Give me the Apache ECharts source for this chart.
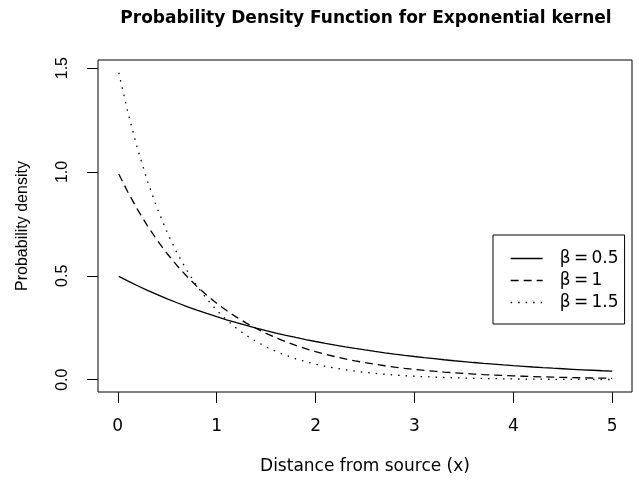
<!DOCTYPE html>
<html>
<head>
<meta charset="utf-8">
<script src="https://cdn.jsdelivr.net/npm/echarts@6/dist/echarts.min.js"></script>
<style>
html,body{margin:0;padding:0;background:#fff;}
#chart{width:639px;height:485px;}
</style>
</head>
<body>
<div id="chart"></div>
<script>
// Distance from source (x)
var xs = [0.01,0.1,0.2,0.3,0.4,0.5,0.6,0.7,0.8,0.9,1.0,1.1,1.2,1.3,1.4,1.5,1.6,1.7,1.8,1.9,2.0,
  2.1,2.2,2.3,2.4,2.5,2.6,2.7,2.8,2.9,3.0,3.1,3.2,3.3,3.4,3.5,3.6,3.7,3.8,3.9,4.0,
  4.1,4.2,4.3,4.4,4.5,4.6,4.7,4.8,4.9,5.0];
// beta = 0.5
var beta05 = [0.4975,0.4756,0.4524,0.4304,0.4094,0.3894,0.3704,0.3523,0.3352,0.3188,0.3033,
  0.2885,0.2744,0.2610,0.2483,0.2362,0.2247,0.2137,0.2033,0.1934,0.1839,
  0.1750,0.1664,0.1583,0.1506,0.1433,0.1363,0.1296,0.1233,0.1173,0.1116,
  0.1061,0.1010,0.0960,0.0913,0.0869,0.0827,0.0786,0.0748,0.0711,0.0677,
  0.0644,0.0612,0.0582,0.0554,0.0527,0.0501,0.0477,0.0454,0.0431,0.0410];
// beta = 1
var beta1 = [0.9900,0.9048,0.8187,0.7408,0.6703,0.6065,0.5488,0.4966,0.4493,0.4066,0.3679,
  0.3329,0.3012,0.2725,0.2466,0.2231,0.2019,0.1827,0.1653,0.1496,0.1353,
  0.1225,0.1108,0.1003,0.0907,0.0821,0.0743,0.0672,0.0608,0.0550,0.0498,
  0.0450,0.0408,0.0369,0.0334,0.0302,0.0273,0.0247,0.0224,0.0202,0.0183,
  0.0166,0.0150,0.0136,0.0123,0.0111,0.0101,0.0091,0.0082,0.0074,0.0067];
// beta = 1.5
var beta15 = [1.4777,1.2911,1.1112,0.9564,0.8232,0.7086,0.6099,0.5249,0.4518,0.3889,0.3347,
  0.2881,0.2479,0.2134,0.1837,0.1581,0.1361,0.1171,0.1008,0.0868,0.0747,
  0.0643,0.0553,0.0476,0.0410,0.0353,0.0304,0.0261,0.0225,0.0194,0.0167,
  0.0143,0.0123,0.0106,0.0091,0.0079,0.0068,0.0058,0.0050,0.0043,0.0037,
  0.0032,0.0028,0.0024,0.0020,0.0018,0.0015,0.0013,0.0011,0.0010,0.0008];
var seriesNames = ['\u03B2\u2009=\u20090.5', '\u03B2\u2009=\u20091', '\u03B2\u2009=\u20091.5'];
var xTicks = [0, 1, 2, 3, 4, 5];
var yTicks = [0, 0.5, 1, 1.5];

function pairs(ys) { return xs.map(function (x, i) { return [x, ys[i]]; }); }

var chart = echarts.init(document.getElementById('chart'), null, {renderer: 'canvas'});
var hFont = 'DejaVu Sans';
var vFont = 'Liberation Sans';
chart.setOption({
  animation: false,
  backgroundColor: '#ffffff',
  title: {
    text: 'Probability Density Function for Exponential kernel',
    left: 361, top: 5, textAlign: 'center',
    textStyle: {fontFamily: hFont, fontWeight: 'bold', fontSize: 17, color: '#000'}
  },
  grid: {left: 98, right: 7, top: 60, bottom: 93, show: true, borderColor: '#000', borderWidth: 1, backgroundColor: 'transparent'},
  legend: {
    orient: 'vertical', left: 493, top: 235,
    padding: [15, 6, 13, 17],
    borderColor: '#000', borderWidth: 1,
    itemWidth: 32, itemHeight: 14, itemGap: 5,
    data: seriesNames,
    itemStyle: {opacity: 0, borderWidth: 0},
    lineStyle: {width: 1.3},
    textStyle: {fontFamily: hFont, fontSize: 17, color: '#000', lineHeight: 14, padding: [0, 0, 0, 12]}
  },
  xAxis: {
    type: 'value', min: -0.2, max: 5.2,
    name: 'Distance from source (x)', nameLocation: 'middle', nameGap: 66,
    nameTextStyle: {fontFamily: hFont, fontSize: 17, color: '#000'},
    axisLine: {show: false, onZero: false},
    splitLine: {show: false},
    axisTick: {show: true, inside: false, length: 11, customValues: xTicks, lineStyle: {color: '#000', width: 1}},
    axisLabel: {customValues: xTicks, margin: 26, fontFamily: hFont, fontSize: 17, color: '#000',
      formatter: function (v) { return String(v); }}
  },
  yAxis: {
    type: 'value', min: -0.0592, max: 1.539,
    name: 'Probability density', nameLocation: 'middle', nameGap: 67, nameRotate: 90,
    nameTextStyle: {fontFamily: vFont, fontSize: 16, color: '#000'},
    axisLine: {show: false, onZero: false},
    splitLine: {show: false},
    axisTick: {show: true, inside: false, length: 11, customValues: yTicks, lineStyle: {color: '#000', width: 1}},
    axisLabel: {customValues: yTicks, rotate: 90, margin: 27, fontFamily: vFont, fontSize: 16, color: '#000',
      formatter: function (v) { return v.toFixed(1); }}
  },
  series: [
    {name: seriesNames[0], type: 'line', data: pairs(beta05), symbol: 'none', showSymbol: false,
      lineStyle: {color: '#000', width: 1.3, type: 'solid'}, itemStyle: {color: '#000'}},
    {name: seriesNames[1], type: 'line', data: pairs(beta1), symbol: 'none', showSymbol: false,
      lineStyle: {color: '#000', width: 1.3, type: [8, 5]}, itemStyle: {color: '#000'}},
    {name: seriesNames[2], type: 'line', data: pairs(beta15), symbol: 'none', showSymbol: false,
      lineStyle: {color: '#000', width: 1.3, type: [1.5, 6]}, itemStyle: {color: '#000'}}
  ]
});
</script>
</body>
</html>
